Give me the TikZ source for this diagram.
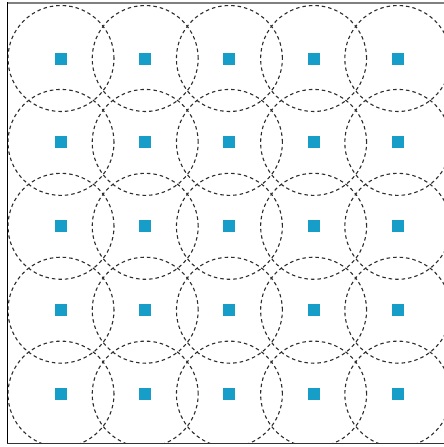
\documentclass[tikz,border=0pt]{standalone}
\definecolor{sqblue}{RGB}{22,158,200}
\definecolor{ringgray}{RGB}{45,45,45}
\begin{document}
\begin{tikzpicture}[x=1pt,y=-1pt,
  cell/.style={fill=sqblue,draw=none,minimum size=12pt,inner sep=0pt},
  ring/.style={circle,draw=ringgray,line width=1.1pt,dash pattern=on 3.5pt off 3pt,minimum size=106pt,inner sep=0pt}]
\useasboundingbox (0,0) rectangle (444,447);
\fill[white] (0,0) rectangle (444,447);
\begin{scope}
\clip (7.5,3) rectangle (444,443.5);
\foreach \i in {0,...,4}{
  \foreach \j in {0,...,4}{
    \node[ring] (r\i\j) at ({61+84.2*\i},{58.5+83.9*\j}) {};
  }
}
\end{scope}
\foreach \i in {0,...,4}{
  \foreach \j in {0,...,4}{
    \node[cell] (s\i\j) at ({61+84.2*\i},{58.5+83.9*\j}) {};
  }
}
\draw[gray,line width=2pt] (7,3) -- (444,3);
\draw[black,line width=1.4pt] (7.5,2) -- (7.5,444);
\draw[black!80,line width=1.2pt] (7,443.5) -- (444,443.5);
\end{tikzpicture}
\end{document}
